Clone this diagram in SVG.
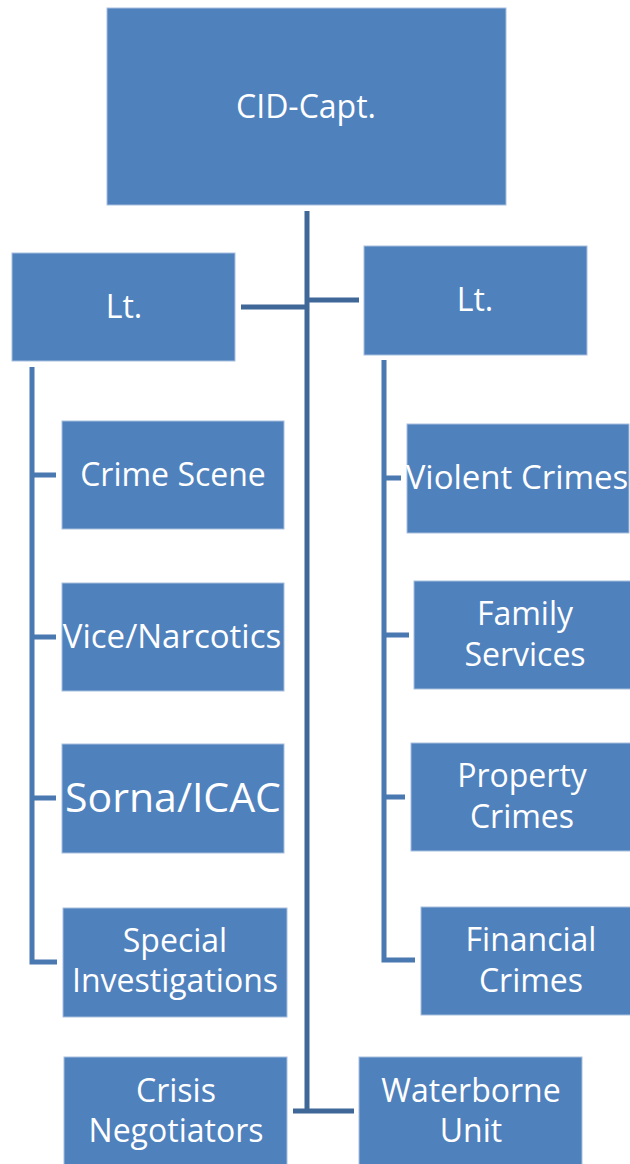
<svg xmlns="http://www.w3.org/2000/svg" width="630" height="1164" viewBox="0 0 630 1164">
<style>
.box{fill:#4F81BD;stroke:#A7BFDF;stroke-width:1}
.t{font-family:"Open Sans","Liberation Sans",sans-serif;font-size:32px;fill:#FFFFFF;text-anchor:middle}
.w{font-size:33px}
.big{font-size:41px}
.trunk{stroke:#3F6898;stroke-width:5;fill:none}
.br{stroke:#4A78B0;stroke-width:5;fill:none}
</style>
<rect width="630" height="1164" fill="#FFFFFF"/>
<g id="connectors">
<path class="trunk" d="M307,211 V1112"/>
<path class="trunk" d="M293,1111 H354"/>
<path class="trunk" d="M241,307 H307"/>
<path class="trunk" d="M307,300 H359"/>
<path class="br" d="M32,367 V962 H57"/>
<path class="br" d="M32,475 H56 M32,637 H56 M32,798 H56"/>
<path class="br" d="M384,360 V960 H415"/>
<path class="br" d="M384,478 H401 M384,635 H409 M384,797 H405"/>
</g>
<g id="cid-capt"><rect class="box" x="107" y="8" width="399" height="197"/><text class="t" x="306" y="118">CID-Capt.</text></g>
<g id="lt-left"><rect class="box" x="12" y="253" width="223" height="108"/><text class="t" x="124" y="318">Lt.</text></g>
<g id="lt-right"><rect class="box" x="364" y="246" width="223" height="109"/><text class="t" x="475" y="311">Lt.</text></g>
<g id="crime-scene"><rect class="box" x="62" y="421" width="222" height="108"/><text class="t" x="173" y="486">Crime Scene</text></g>
<g id="vice-narcotics"><rect class="box" x="62" y="583" width="222" height="108"/><text class="t w" x="172" y="648">Vice/Narcotics</text></g>
<g id="sorna-icac"><rect class="box" x="62" y="744" width="222" height="109"/><text class="t big" x="173" y="812">Sorna/ICAC</text></g>
<g id="special-investigations"><rect class="box" x="63" y="908" width="224" height="109"/><text class="t" x="175" y="952">Special</text><text class="t" x="175" y="992">Investigations</text></g>
<g id="crisis-negotiators"><rect class="box" x="64" y="1057" width="223" height="110"/><text class="t" x="176" y="1102">Crisis</text><text class="t" x="176" y="1142">Negotiators</text></g>
<g id="violent-crimes"><rect class="box" x="407" y="424" width="222" height="109"/><text class="t w" x="517" y="489">Violent Crimes</text></g>
<g id="family-services"><rect class="box" x="414" y="581" width="222" height="108"/><text class="t" x="525" y="625">Family</text><text class="t" x="525" y="666">Services</text></g>
<g id="property-crimes"><rect class="box" x="411" y="743" width="225" height="108"/><text class="t" x="522" y="787">Property</text><text class="t" x="522" y="828">Crimes</text></g>
<g id="financial-crimes"><rect class="box" x="421" y="907" width="215" height="108"/><text class="t" x="531" y="951">Financial</text><text class="t" x="531" y="992">Crimes</text></g>
<g id="waterborne-unit"><rect class="box" x="359" y="1057" width="223" height="110"/><text class="t" x="471" y="1102">Waterborne</text><text class="t" x="471" y="1142">Unit</text></g>
</svg>
